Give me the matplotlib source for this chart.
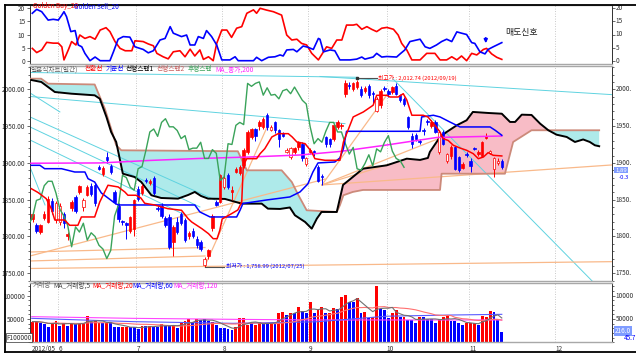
import numpy as np
import pandas as pd
import matplotlib
matplotlib.use("Agg")
import matplotlib.pyplot as plt
import matplotlib.transforms as mtransforms
from matplotlib.lines import Line2D
from matplotlib.ticker import MultipleLocator

plt.rcParams['font.family'] = ['Noto Sans CJK KR', 'DejaVu Sans']

W, H = 636, 360
RED = "#ff0000"
BLUE = "#0000ff"

# daily candles, index 0 = 2012/05/22 (trading days)
opens = [1824, 1815, 1806, 1825, 1820, 1848, 1822, 1820, 1830, 1800,
         1839, 1853, 1861, 1840, 1857, 1869, 1870, 1894, 1885, 1908,
         1896, 1861, 1842, 1821, 1818, 1808, 1810, 1865, 1859, 1877,
         1873, 1879, 1839, 1842, 1825, 1826, 1792, 1820, 1830, 1822,
         1800, 1808, 1797, 1792, 1761, 1774, 1811, 1847, 1847, 1867,
         1883, 1860, 1888, 1886, 1897, 1915, 1935, 1946, 1950, 1949,
         1965, 1945, 1955, 1944, 1940, 1915, 1908, 1915, 1921, 1926,
         1899, 1915, 1916, 1894, 1882, 1935, 1932, 1933, 1949, 1950,
         1994, 2006, 2001, 2003, 2001, 1998, 2005, 1995, 1971, 1978,
         2002, 1998, 1996, 2005, 1992, 1987, 1962, 1937, 1938, 1930,
         1944, 1957, 1950, 1956, 1915, 1942, 1903, 1910, 1921, 1908,
         1893, 1912, 1903, 1920, 1912, 1910, 1934, 1914, 1892, 1900,
         1903]
highs = [1833, 1818, 1817, 1835, 1855, 1852, 1848, 1845, 1833, 1806,
         1850, 1856, 1870, 1852, 1870, 1872, 1872, 1897, 1896, 1915,
         1899, 1863, 1845, 1823, 1820, 1828, 1851, 1868, 1871, 1880,
         1878, 1882, 1842, 1845, 1828, 1830, 1815, 1826, 1833, 1825,
         1808, 1812, 1800, 1795, 1772, 1783, 1830, 1849, 1885, 1885,
         1886, 1868, 1894, 1897, 1920, 1944, 1948, 1948, 1958, 1962,
         1968, 1951, 1957, 1946, 1942, 1920, 1922, 1922, 1930, 1928,
         1908, 1920, 1918, 1897, 1885, 1937, 1934, 1953, 1958, 1954,
         2012, 2010, 2010, 2012.74, 2004, 2005, 2007, 1997, 1989, 2000,
         2005, 2000, 2005, 2008, 1994, 1989, 1964, 1940, 1940, 1933,
         1948, 1960, 1958, 1958, 1944, 1945, 1914, 1924, 1923, 1910,
         1901, 1915, 1906, 1922, 1917, 1930, 1941, 1918, 1908, 1906,
         1905]
lows = [1820, 1805, 1803, 1822, 1818, 1830, 1818, 1816, 1812, 1795,
        1835, 1832, 1858, 1835, 1855, 1855, 1842, 1890, 1882, 1900,
        1885, 1844, 1820, 1815, 1796, 1805, 1800, 1848, 1857, 1873,
        1870, 1856, 1835, 1825, 1813, 1783, 1774, 1803, 1815, 1792,
        1797, 1798, 1785, 1780, 1758.99, 1770, 1808, 1841, 1845, 1865,
        1864, 1850, 1886, 1884, 1893, 1912, 1932, 1930, 1945, 1946,
        1945, 1943, 1940, 1922, 1935, 1913, 1905, 1912, 1918, 1903,
        1896, 1912, 1910, 1874, 1870, 1922, 1922, 1930, 1946, 1946,
        1990, 2000, 1998, 2000, 1990, 1995, 1988, 1980, 1969, 1975,
        1997, 1990, 1994, 1992, 1983, 1977, 1946, 1920, 1930, 1925,
        1938, 1952, 1948, 1940, 1912, 1924, 1900, 1905, 1890, 1888,
        1891, 1908, 1888, 1917, 1910, 1908, 1932, 1912, 1881, 1897,
        1892]
closes = [1830, 1808, 1815, 1830, 1851, 1835, 1845, 1842, 1818, 1803,
          1847, 1835, 1868, 1850, 1867, 1858, 1845, 1892, 1893, 1904,
          1887, 1847, 1824, 1819, 1816, 1826, 1849, 1851, 1869, 1875,
          1875, 1859, 1837, 1828, 1815, 1786, 1813, 1806, 1818, 1795,
          1805, 1800, 1788, 1783, 1770, 1781, 1828, 1843, 1883, 1880,
          1867, 1863, 1892, 1895, 1917, 1942, 1946, 1936, 1955, 1960,
          1949, 1949, 1944, 1933, 1937, 1918, 1920, 1920, 1928, 1906,
          1906, 1918, 1913, 1876, 1881, 1926, 1925, 1951, 1955, 1952,
          2008, 2004, 2008, 2010, 1992, 2002, 1992, 1993, 1987, 1998,
          2000, 1994, 2003, 1994, 1985, 1980, 1949, 1926, 1933, 1928,
          1943, 1955, 1955, 1942, 1942, 1926, 1912, 1921, 1892, 1890,
          1899, 1911, 1896, 1919, 1915, 1928, 1937, 1916, 1906, 1903,
          1894]
hollow_days = [6, 7, 13, 44, 49, 61, 65, 66, 70, 88, 104, 106, 117, 118, 119]

volumes = [44300, 44300, 42100, 39300, 33500, 42100, 46400, 35700, 40700, 35700,
           42100, 39300, 40700, 42100, 56400, 44300, 46400, 40700, 40700, 40700,
           44300, 32100, 32100, 33500, 32100, 32100, 32100, 27800, 35700, 35700,
           35700, 33500, 32100, 39300, 36000, 36000, 37100, 30000, 44300, 46400,
           49300, 44300, 49300, 47900, 49300, 46400, 44300, 37100, 31400, 30000,
           27800, 26400, 33500, 51400, 51400, 37100, 40700, 37100, 44300, 39300,
           40700, 42100, 42100, 62200, 65700, 58600, 63600, 62200, 76500, 67200,
           62200, 87200, 63600, 70000, 76500, 62200, 63600, 72900, 70700, 97900,
           101500, 87200, 87200, 95800, 62200, 65700, 51400, 53600, 120800, 70700,
           69300, 51400, 62200, 69300, 53600, 53600, 47900, 47900, 42100, 55000,
           55000, 49300, 49300, 42100, 49300, 53600, 58600, 46400, 46400, 40700,
           37100, 42100, 42100, 40700, 37100, 56400, 55000, 67900, 65700, 49300,
           22800]
# 1 = red bar, 0 = blue bar
volume_up = [1, 1, 0, 0, 0, 1, 1, 0, 1, 0,
             1, 0, 1, 1, 1, 0, 1, 1, 0, 1,
             0, 0, 0, 1, 1, 0, 0, 0, 1, 0,
             1, 0, 0, 1, 0, 0, 1, 0, 1, 1,
             1, 0, 1, 0, 0, 0, 1, 0, 0, 0,
             0, 0, 1, 1, 1, 1, 0, 1, 1, 0,
             0, 1, 0, 1, 1, 0, 1, 0, 1, 0,
             0, 1, 0, 1, 1, 0, 1, 1, 0, 1,
             1, 0, 0, 1, 0, 1, 0, 1, 1, 0,
             0, 0, 1, 1, 0, 1, 0, 0, 0, 1,
             0, 0, 0, 0, 1, 1, 1, 0, 0, 0,
             0, 1, 1, 1, 0, 1, 1, 1, 0, 0,
             0]

month_first_day = [7, 27, 49, 71, 91, 112, 134]
month_labels = ["6", "7", "8", "9", "10", "11", "12"]

# ichimoku lines traced as (day, price) vertices
tenkan_x = [-0.3, 1.4, 3.5, 4.8, 5.7, 8.2, 9.5, 11.6, 12.5, 15.9, 17.2, 19.3, 21.9, 23.6, 24.4,
            26.5, 27.7, 28.7, 31.2, 34.6, 38.1, 39.8, 40.7, 43.3, 45.0, 46.2, 47.2, 47.9, 48.5,
            50.9, 52.5, 53.5, 53.9, 54.8, 57.3, 58.2, 59.4, 61.2, 62.8, 65.4, 66.4, 67.6, 69.7,
            71.4, 72.2, 74.8, 78.6, 79.5, 82.0, 84.6, 87.1, 88.0, 90.6, 91.4, 93.5, 94.8, 95.7,
            97.0, 99.9, 101.1, 102.9, 104.2, 105.0, 106.3, 107.6, 109.3, 111.0, 112.7, 114.0,
            115.3, 116.5, 117.8, 120.0]
tenkan_y = [1864.9, 1859.8, 1851.4, 1837.8, 1822.4, 1822.4, 1815.2, 1815.2, 1826.5, 1826.5,
            1846.9, 1869.6, 1867.3, 1860.5, 1856, 1856, 1852.3, 1845.1, 1842.8, 1837.8, 1835.6,
            1824.2, 1819.7, 1810.6, 1803.8, 1797, 1797, 1808.4, 1823.8, 1831, 1836, 1846.9,
            1896.7, 1905.7, 1905.7, 1912.5, 1919.3, 1935.2, 1939.7, 1939.7, 1935.2, 1928.4,
            1926.1, 1914.8, 1905.7, 1903.5, 1903.5, 1928.4, 1962.4, 1969.2, 1978.3, 1991.8,
            1991.8, 1989.5, 1989.5, 1994, 1985.5, 1964.7, 1964.7, 1962.4, 1951.1, 1942, 1932.9,
            1930.4, 1923.9, 1920.2, 1917.1, 1912.5, 1905.7, 1908, 1913.9, 1910.3, 1909.4]
kijun_x = [-0.3, 1.9, 3.1, 7.4, 10.8, 13.4, 14.2, 15.9, 17.6, 19.3, 21.0, 21.9, 41.5, 42.8, 45.4,
           52.2, 53.1, 53.8, 59.9, 65.8, 68.4, 70.4, 71.7, 73.0, 77.3, 78.6, 79.5, 80.3, 99.1,
           99.5, 102.5, 104.2, 106.7, 109.3, 117.0, 118.3, 120.0]
kijun_y = [1896.7, 1896.7, 1892.1, 1892.1, 1887.6, 1887.6, 1878.5, 1874, 1859.1, 1852.3, 1845.5,
           1842.8, 1842.8, 1833.3, 1826.5, 1826.5, 1836, 1844.8, 1849.6, 1853.7, 1860.5, 1871.3,
           1887.6, 1899.9, 1901.2, 1906.7, 1919.3, 1942.9, 1942.9, 1962.4, 1964.7, 1962.4,
           1955.6, 1948.8, 1948.8, 1944.3, 1937.5]
span1_x = [-0.3, 2.25, 5.7, 9.9, 15.9, 17.2, 18.9, 20.1, 21.4, 22.3, 23.1, 26.1, 27.8, 30.4, 32.9,
           37.2, 39.8, 41.5, 43.1, 44.9, 49.2, 53.5, 58.6, 60.2, 63.3, 65.8, 67.1, 69.7, 71.4,
           72.7, 73.9, 77.8, 79.4, 81.9, 84.5, 90.6, 95.7, 99.1, 101.1, 101.6, 104.2, 105.9,
           108.5, 111.0, 112.6, 116.5, 120.0, 122.1, 123.4, 125.1, 127.6, 129.8, 131.9, 134.0,
           136.6, 138.7, 140.8, 142.5, 143.8, 144.9]
span1_y = [2012.6, 2009.9, 1996.3, 1994, 1991.8, 1987.2, 1962.4, 1942, 1928.4, 1905.7, 1885.3,
           1880.8, 1874, 1856, 1852.3, 1851.4, 1856.4, 1860.5, 1855, 1851.4, 1851, 1844.6,
           1844.6, 1837.8, 1837.4, 1839.4, 1828.8, 1819.7, 1810.6, 1824.2, 1833.3, 1833.3, 1870,
           1880.8, 1892.1, 1896.7, 1905.7, 1904, 1906.7, 1914.8, 1935.2, 1942, 1951.1, 1957.9,
           1969.2, 1967.8, 1966.8, 1955.6, 1955.6, 1965.5, 1965.1, 1953.3, 1944.3, 1938.3,
           1935.2, 1928.4, 1931.8, 1928.4, 1923.9, 1922.6]
span2_x = [-0.4, 2.2, 4.0, 15.9, 16.7, 18.5, 20.1, 21.4, 22.7, 52.5, 54.8, 63.7, 66.3, 68.0, 70.1,
           77.8, 78.6, 79.5, 81.9, 84.5, 104.2, 104.6, 120.8, 122.9, 127.6, 144.9]
span2_y = [2014.4, 2014.4, 2007.6, 2006.5, 1996.3, 1973.6, 1946.5, 1923.9, 1917.1, 1915.8, 1889.9,
           1889.9, 1874, 1856, 1835.6, 1833.3, 1842.4, 1856, 1860.5, 1863.2, 1863.2, 1885.3,
           1885.3, 1928.4, 1944.3, 1944.3]
ma200_x = [-0.4, 17.3, 30.0, 42.8, 55.6, 68.4, 78.6, 90.6, 103.4, 109.3, 120.0]
ma200_y = [1899.5, 1899.9, 1903.3, 1906.0, 1908.0, 1910.7, 1915.5, 1924.3, 1934.5, 1935.2, 1936.5]

cyan_lines = [
    [(-0.64, 2022.8), (83.0, 2016.3)],
    [(73.5, 2017.4), (148.2, 1992.7)],
    [(-0.64, 1990.2), (79.9, 1953.3)],
    [(-0.64, 1995.0), (7.0, 1969.2)],
    [(-0.64, 1962.4), (46.7, 1849.6)],
    [(-0.64, 1948.8), (42.8, 1840.1)],
    [(-0.64, 1931.1), (39.0, 1829.2)],
    [(-0.64, 1894.4), (3.2, 1842.8)],
    [(92.2, 2014.0), (143.1, 1739.5)],
]
orange_lines = [
    [(-0.64, 1773.5), (74.8, 1878.0)],
    [(-0.64, 1778.9), (44.1, 1785.0)],
    [(-0.64, 1766.7), (44.1, 1773.5)],
    [(-0.64, 1756.5), (148.2, 1765.8)],
    [(44.0, 1759.0), (60.2, 1951.2)],
    [(74.0, 1870.0), (90.6, 1992.3)],
    [(74.0, 1870.0), (104.2, 1933.8)],
    [(74.0, 1870.0), (148.2, 1897.2)],
    [(74.0, 1870.0), (91.4, 1898.5)],
]

# golden buy / sell counters (top panel)
gbuy_x = [-0.05, 1.07, 2.35, 3.63, 5.3, 6.6, 7.5, 8.05, 9.15, 10.0, 11.1, 12.1, 13.4, 14.7, 16.0,
          17.3, 18.8, 19.8, 21.1, 22.4, 23.7, 25.4, 26.2, 28.3, 29.6, 30.9, 31.8, 33.4, 34.7,
          36.0, 37.7, 39.0, 40.3, 41.5, 42.8, 43.7, 45.0, 46.2, 47.1, 48.4, 49.7, 50.9, 52.2,
          53.5, 54.8, 56.5, 57.3, 58.2, 59.9, 61.6, 63.7, 65.0, 66.3, 67.6, 68.8, 70.1, 71.4,
          73.1, 74.4, 75.2, 76.5, 77.8, 79.1, 80.3, 82.0, 82.9, 84.2, 85.5, 86.7, 88.0, 89.3,
          90.6, 92.3, 93.5, 94.4, 95.7, 97.0, 99.1, 100.8, 102.9, 104.2, 105.9, 107.2, 108.5,
          109.7, 111.0, 112.3, 113.6, 115.3, 116.1, 117.4, 118.7, 120.0]
gbuy_y = [4.7, 3.1, 4.1, 7.0, 6.7, 6.7, 5.3, 0.3, 4.1, 7.3, 6.0, 9.8, 8.5, 9.2, 8.2, 11.7, 12.6,
          11.1, 7.3, 4.7, 3.8, 3.8, 7.6, 7.3, 6.4, 5.7, 2.8, 1.5, 0.7, 3.4, 3.8, 1.5, 4.4, 1.8,
          4.1, 0.5, 1.5, 0.0, 6.6, 11.7, 11.7, 8.9, 12.4, 13.0, 18.1, 19.4, 18.1, 20.0, 19.3,
          18.7, 17.4, 9.8, 7.9, 8.2, 6.6, 6.0, 2.8, 0.3, 3.4, 5.3, 4.7, 7.9, 7.9, 13.6, 13.6,
          13.9, 12.0, 13.0, 12.0, 11.1, 12.4, 12.7, 12.0, 9.8, 6.6, 4.1, 0.3, 0.3, 2.8, 2.8,
          0.3, 0.3, 1.5, 0.3, 1.8, 0.0, 2.8, 2.2, 4.3, 4.7, 2.6, 1.3, 0.5]
gsell_x = [-0.05, 1.07, 2.35, 4.0, 5.3, 6.6, 7.5, 8.05, 8.7, 9.8, 10.9, 11.7, 12.6, 13.4, 14.7,
           16.0, 17.3, 19.8, 20.7, 21.9, 23.2, 24.9, 26.2, 28.3, 29.6, 30.9, 32.6, 33.9, 35.2,
           36.0, 38.1, 39.4, 40.3, 41.5, 42.4, 43.7, 44.5, 45.8, 47.1, 48.4, 50.5, 51.8, 52.6,
           56.5, 57.3, 58.6, 60.3, 62.0, 63.3, 64.1, 65.0, 66.7, 67.6, 69.2, 70.5, 71.8, 73.1,
           73.5, 74.4, 76.1, 77.3, 78.6, 81.2, 82.9, 84.2, 85.0, 87.1, 88.0, 89.3, 90.6, 93.1,
           94.0, 95.2, 96.5, 98.2, 99.1, 100.4, 101.6, 103.3, 104.6, 105.9, 107.2, 108.5, 109.7,
           111.0, 112.3, 113.1, 114.4, 115.7, 116.5, 117.8, 120.0]
gsell_y = [18.1, 19.6, 18.7, 15.5, 15.8, 15.5, 17.4, 18.7, 16.8, 11.1, 11.5, 6.0, 5.3, 2.8, 0.0,
           1.4, 0.0, 0.0, 3.4, 8.2, 9.2, 9.0, 5.3, 4.3, 3.0, 3.8, 7.9, 8.5, 13.0, 10.5, 9.2,
           9.8, 6.0, 6.0, 9.2, 8.5, 11.5, 9.2, 6.0, 0.3, 0.3, 1.5, 0.0, 0.0, 1.3, 0.0, 1.3, 1.5,
           2.2, 1.8, 4.1, 4.3, 3.4, 5.6, 5.1, 4.3, 8.5, 8.2, 3.4, 4.1, 3.8, 0.3, 0.3, 0.6, 1.4,
           0.6, 1.4, 2.8, 1.4, 1.6, 1.4, 2.6, 4.1, 7.3, 7.9, 8.2, 5.3, 4.7, 6.0, 7.3, 8.2, 7.3,
           11.0, 10.5, 10.0, 6.9, 6.6, 3.4, 2.6, 4.3, 5.3, 6.9]

# long volume averages, traced
vma60_x = [-0.2, 25.8, 51.3, 72.7, 90.6, 107.6, 120.0]
vma60_y = [51400, 44300, 40700, 44000, 56000, 58600, 60000]
vma120_x = [-0.2, 25.8, 51.3, 72.7, 120.0]
vma120_y = [55000, 51400, 49300, 47900, 47900]

XMIN, XMAX = -0.64, 148.1
FS = 4.6


def ftext(fig, x, y, s, **kw):
    kw.setdefault("va", "center")
    kw.setdefault("fontsize", FS)
    fig.text(x / W, 1 - y / H, s, **kw)


def make_axes(fig, top, bottom):
    ax = fig.add_axes([30 / W, 1 - bottom / H, (611.7 - 30) / W, (bottom - top) / H])
    ax.set_xlim(XMIN, XMAX)
    ax.set_xticks([])
    for side in ["top", "bottom"]:
        ax.spines[side].set_color("#a8a8a8")
        ax.spines[side].set_linewidth(1.0)
    for side in ["left", "right"]:
        ax.spines[side].set_color("#303030")
        ax.spines[side].set_linewidth(0.7)
    for m in month_first_day:
        ax.axvline(m - 0.45, color="#b8b8b8", lw=0.6, ls=(0, (1, 2)), zorder=0)
    ax.tick_params(axis="y", which="both", direction="out", width=0.5, colors="#303030",
                   labelsize=FS, pad=1, right=True)
    ax.tick_params(axis="y", which="major", length=2.5)
    ax.tick_params(axis="y", which="minor", length=1.5)
    return ax


def draw_top(fig):
    ax = make_axes(fig, 5, 64)
    ax.set_ylim(-1.26, 21.26)
    ax.set_yticks([0, 5, 10, 15, 20])
    ax.plot(gbuy_x, gbuy_y, color=RED, lw=1.2)
    ax.plot(gsell_x, gsell_y, color=BLUE, lw=1.2)
    tr = ax.get_yaxis_transform()
    for v in [0, 5, 10, 15, 20]:
        ax.text(1.007, v, str(v), transform=tr, fontsize=FS, va="center", color="#303030")
    ax.annotate("", xy=(115.9, 5.6), xytext=(115.9, 9.8),
                arrowprops=dict(arrowstyle="-|>", color=BLUE, lw=1.2, mutation_scale=5))
    ftext(fig, 505.7, 32.3, "매도신호", fontsize=6.4, color="#202020")
    ftext(fig, 33, 6.5, "Golden Buy_20", color=RED)
    ftext(fig, 74, 6.5, "Golden Sell_20", color=BLUE)


def draw_main(fig):
    ax = make_axes(fig, 65.5, 281)
    ax.set_ylim(1739.5, 2032.3)
    ticks = [1750, 1800, 1850, 1900, 1950, 2000]
    ax.set_yticks(ticks)
    ax.set_yticklabels([f"{t:.2f}" for t in ticks])
    ax.yaxis.set_minor_locator(MultipleLocator(10))

    # cloud
    grid = np.linspace(min(span1_x), max(span1_x), 3000)
    s1 = np.interp(grid, span1_x, span1_y)
    s2 = np.interp(grid, span2_x, span2_y)
    ax.fill_between(grid, s1, s2, where=s2 >= s1, interpolate=True, color="#aeeaea", lw=0, zorder=1)
    ax.fill_between(grid, s1, s2, where=s1 > s2, interpolate=True, color="#f8bcc6", lw=0, zorder=1)

    for (x0, y0), (x1, y1) in cyan_lines:
        ax.plot([x0, x1], [y0, y1], color="#5fd3e0", lw=0.7, zorder=2)
    for (x0, y0), (x1, y1) in orange_lines:
        ax.plot([x0, x1], [y0, y1], color="#f9b98a", lw=0.9, zorder=2)

    ax.plot(span2_x, span2_y, color="#cc8a7a", lw=1.3, zorder=3)
    ax.plot(span1_x, span1_y, color="black", lw=1.4, zorder=3)

    # candles
    o = np.array(opens, float)
    h = np.array(highs, float)
    lo = np.array(lows, float)
    c = np.array(closes, float)
    idx = np.arange(len(c))
    up = c >= o
    cols = np.where(up, RED, BLUE)
    ax.vlines(idx, lo, h, colors=cols, lw=0.7, zorder=4)
    body = np.maximum(np.abs(c - o), 0.9)
    face = [("white" if i in hollow_days else col) for i, col in zip(idx, cols)]
    ax.bar(idx, body, bottom=np.minimum(o, c), width=0.62, color=face, edgecolor=cols,
           linewidth=0.5, zorder=5)

    ax.plot(ma200_x, ma200_y, color="#ff22ff", lw=1.1, zorder=6)
    ax.plot(idx - 25, c, color="#3aa35a", lw=1.0, zorder=6)
    ax.plot(kijun_x, kijun_y, color=BLUE, lw=1.1, zorder=6)
    ax.plot(tenkan_x, tenkan_y, color=RED, lw=1.1, zorder=6)

    # high / low marks
    ax.plot([83, 88], [2015.4, 2015.4], color="#505050", lw=0.8, zorder=7)
    ax.plot([83], [2015.4], marker="s", ms=1.5, color="#303030", zorder=7)
    ax.text(88.4, 2015.4, "최고가 : 2,012.74 (2012/09/19)", fontsize=4.2, color=RED, va="center")
    ax.plot([44, 49], [1758.99, 1758.99], color="#505050", lw=0.8, zorder=7)
    ax.text(49.4, 1759.6, "최저가 : 1,758.99 (2012/07/25)", fontsize=4.2, color=BLUE, va="center")

    tr = ax.get_yaxis_transform()
    for t in ticks:
        ax.text(1.007, t, f"{t}.", transform=tr, fontsize=FS, va="center", color="#303030")
    ax.text(1.006, 1890, "1,89", transform=tr, fontsize=4.3, va="center", color="white",
            bbox=dict(boxstyle="square,pad=0.12", fc="#7f9cff", ec="none"))
    ax.text(1.012, 1880, "-0.3", transform=tr, fontsize=4.3, va="center", color=BLUE)

    items = [("일본식차트(일간)", "#606060", 31), ("전환선", RED, 85), ("기준선", BLUE, 106),
             ("선행스팬1", "black", 126), ("선행스팬2", "#c86060", 157), ("후행스팬", "#3aa35a", 188),
             ("MA_종가,200", "#ff22ff", 215)]
    for s, col, x in items:
        ftext(fig, x, 69.3, s, color=col, fontsize=4.8)


def draw_volume(fig):
    ax = make_axes(fig, 282.5, 342.3)
    ax.set_ylim(0, 128300)
    ax.set_yticks([50000, 100000])
    ax.set_yticklabels(["50000", "100000"])
    ax.yaxis.set_minor_locator(MultipleLocator(10000))
    v = pd.Series(volumes, dtype=float)
    idx = np.arange(len(v))
    cols = np.where(np.array(volume_up) == 1, RED, BLUE)
    ax.bar(idx, v, width=0.74, color=cols, lw=0, zorder=2)
    ax.plot(vma120_x, vma120_y, color="#ff44ff", lw=0.8, zorder=3)
    ax.plot(vma60_x, vma60_y, color="#5a5aff", lw=0.8, zorder=3)
    ax.plot(idx, v.rolling(20, min_periods=1).mean(), color="#ff7070", lw=0.8, zorder=3)
    ax.plot(idx, v.rolling(5, min_periods=1).mean(), color="#707070", lw=0.8, zorder=3)

    tr = ax.get_yaxis_transform()
    ax.text(1.007, 100000, "10000", transform=tr, fontsize=FS, va="center", color="#303030")
    ax.text(1.007, 50000, "50000", transform=tr, fontsize=FS, va="center", color="#303030")
    ax.text(1.006, 24000, "216.0", transform=tr, fontsize=FS, va="center", color="white",
            bbox=dict(boxstyle="square,pad=0.12", fc="#7f9cff", ec="none"))
    ax.text(1.02, 8500, "45.7", transform=tr, fontsize=FS, va="center", color=BLUE)
    ftext(fig, 6.5, 337.5, "F100000", color="#303030",
          bbox=dict(boxstyle="square,pad=0.1", fc="white", ec="#303030", lw=0.5))

    items = [("거래량", "#606060", 33), ("MA_거래량,5", "#404040", 53), ("MA_거래량,20", RED, 92),
             ("MA_거래량,60", BLUE, 132), ("MA_거래량,120", "#ff22ff", 173)]
    for s, col, x in items:
        ftext(fig, x, 285.5, s, color=col, fontsize=4.8)

    # month labels
    bt = mtransforms.blended_transform_factory(ax.transData, fig.transFigure)
    ax.text(-0.2, 1 - 349 / H, "2012/05", transform=bt, fontsize=FS, va="center", color="#303030")
    for m, lab in zip(month_first_day, month_labels):
        ax.text(m - 0.4, 1 - 349 / H, lab, transform=bt, fontsize=FS, va="center", color="#303030")


def main():
    fig = plt.figure(figsize=(W / 100, H / 100), dpi=100)
    fig.patch.set_facecolor("white")
    draw_top(fig)
    draw_main(fig)
    draw_volume(fig)
    for (x0, y0), (x1, y1) in [((5, 4.5), (636, 4.5)), ((5, 4.5), (5, 352)), ((5, 352), (636, 352))]:
        fig.add_artist(Line2D([x0 / W, x1 / W], [1 - y0 / H, 1 - y1 / H], color="black", lw=1.3,
                              transform=fig.transFigure))
    fig.savefig("out.png", dpi=100)
    plt.close("all")


if __name__ == "__main__":
    main()
